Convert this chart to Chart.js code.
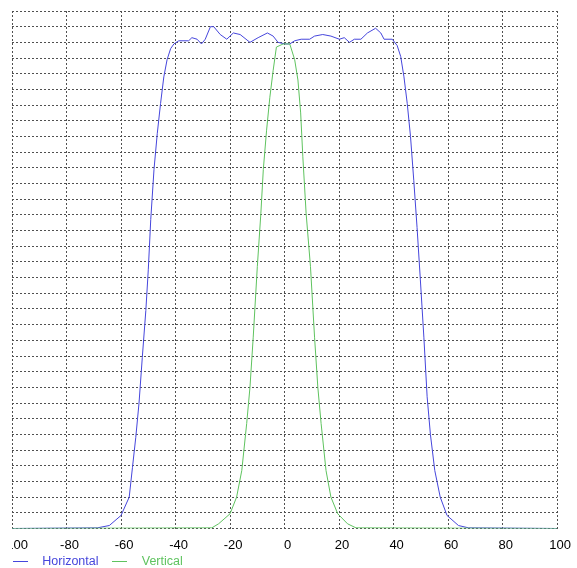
<!DOCTYPE html>
<html>
<head>
<meta charset="utf-8">
<script src="https://cdn.jsdelivr.net/npm/chart.js@4/dist/chart.umd.min.js"></script>
<style>
  body { margin: 0; background: #fff; }
  #clip { position: absolute; left: 12px; top: 0; width: 565px; height: 568px; overflow: hidden; }
  #box { position: relative; width: 596px; height: 568px; margin-left: -31px; }
</style>
</head>
<body>
<div id="clip"><div id="box"><canvas id="chart"></canvas></div></div>
<script>
// Beam profile, position in mm, intensity in grid units
const horizontalX = [-100, -68.7, -64.3, -60.0, -57.0, -55.8, -54.6, -53.4, -52.2, -50.9, -50.0, -49.1, -47.9, -46.7, -45.5, -44.3, -43.1, -41.8, -40.6, -38.8, -35.2, -34.0, -32.1, -30.5, -29.1, -27.2, -26.0, -23.6, -21.2, -18.8, -16.3, -12.7, -9.7, -6.3, -4.2, -2.4, 0.1, 1.9, 3.7, 6.1, 9.2, 11.0, 14.0, 17.0, 20.1, 21.9, 23.8, 25.6, 28.0, 30.4, 33.4, 35.3, 36.5, 39.5, 41.3, 42.6, 43.8, 45.0, 46.2, 47.4, 48.6, 49.8, 51.1, 52.3, 53.5, 55.1, 57.1, 59.6, 63.8, 67.5, 100];
const horizontalY = [0, 0.04, 0.19, 0.83, 2.0, 3.9, 5.8, 8.0, 10.9, 13.9, 16.5, 19.7, 22.9, 25.2, 27.1, 28.8, 29.9, 30.6, 30.9, 31.1, 31.1, 31.3, 31.2, 30.9, 31.2, 32.0, 32.0, 31.5, 31.2, 31.6, 31.5, 31.0, 31.3, 31.6, 31.4, 31.0, 30.9, 30.9, 31.1, 31.2, 31.2, 31.4, 31.5, 31.4, 31.2, 31.3, 31.0, 31.2, 31.2, 31.6, 31.9, 31.6, 31.2, 31.2, 30.8, 30.1, 28.8, 27.1, 25.0, 22.2, 19.2, 15.9, 12.2, 8.4, 6.0, 3.7, 2.0, 0.83, 0.19, 0.04, 0];

const verticalX = [-100, -26.7, -24.2, -20.0, -17.6, -15.7, -13.9, -12.7, -11.5, -10.0, -8.7, -7.8, -6.6, -5.4, -4.2, -3.0, -0.5, 1.9, 3.7, 4.9, 5.9, 6.7, 7.9, 9.5, 11.0, 12.2, 13.4, 15.2, 17.0, 19.5, 23.1, 26.2, 100];
const verticalY = [0, 0.04, 0.3, 0.94, 2.0, 3.7, 6.7, 9.0, 12.2, 16.7, 20.1, 22.9, 25.4, 27.5, 29.2, 30.7, 30.9, 30.9, 29.9, 28.6, 26.5, 23.7, 20.1, 16.7, 12.2, 9.0, 6.7, 3.7, 2.0, 0.94, 0.3, 0.04, 0];

const xTicks = [-100, -80, -60, -40, -20, 0, 20, 40, 60, 80, 100];

const blue = '#4646dc';
const green = '#5fc35f';

// short line used as legend marker
function legendLine(color) {
  const c = document.createElement('canvas');
  c.width = 15;
  c.height = 1;
  const g = c.getContext('2d');
  g.fillStyle = color;
  g.fillRect(0, 0, 15, 1);
  return c;
}

const toPoints = (xs, ys) => xs.map((x, i) => ({x: x, y: ys[i]}));

const font = {family: "'Liberation Sans', Arial, sans-serif", size: 13};

new Chart(document.getElementById('chart'), {
  type: 'line',
  data: {
    datasets: [
      {
        label: 'Horizontal',
        data: toPoints(horizontalX, horizontalY),
        borderColor: blue,
        borderWidth: 1,
        pointRadius: 0,
        order: 1
      },
      {
        label: 'Vertical',
        data: toPoints(verticalX, verticalY),
        borderColor: green,
        borderWidth: 1,
        pointRadius: 0,
        order: 0
      }
    ]
  },
  options: {
    animation: false,
    responsive: true,
    maintainAspectRatio: false,
    layout: {
      padding: {left: 18, right: 16, top: 11, bottom: -10}
    },
    scales: {
      x: {
        type: 'linear',
        min: -100,
        max: 100,
        afterBuildTicks: (scale) => { scale.ticks = xTicks.map(v => ({value: v})); },
        afterFit: (scale) => { scale.height = 22; },
        ticks: {
          color: '#000',
          font: font,
          padding: 9,
          labelOffset: 3,
          maxRotation: 0
        },
        grid: {color: '#505050', drawTicks: false},
        border: {display: false, dash: [2, 2]}
      },
      y: {
        min: 0,
        max: 33,
        ticks: {display: false, stepSize: 1},
        grid: {color: '#505050', drawTicks: false},
        border: {display: false, dash: [2, 2]},
        afterFit: (scale) => { scale.width = 13; }
      }
    },
    plugins: {
      tooltip: {enabled: false},
      legend: {
        position: 'bottom',
        align: 'start',
        labels: {
          font: {family: font.family, size: 12.5},
          padding: 5,
          usePointStyle: true,
          pointStyleWidth: 32,
          sort: (a, b) => a.datasetIndex - b.datasetIndex,
          generateLabels: (chart) => {
            const items = Chart.defaults.plugins.legend.labels.generateLabels(chart);
            items.forEach(item => {
              item.fontColor = item.strokeStyle;
              item.pointStyle = legendLine(item.strokeStyle);
            });
            return items;
          }
        }
      }
    }
  }
});
</script>
</body>
</html>
